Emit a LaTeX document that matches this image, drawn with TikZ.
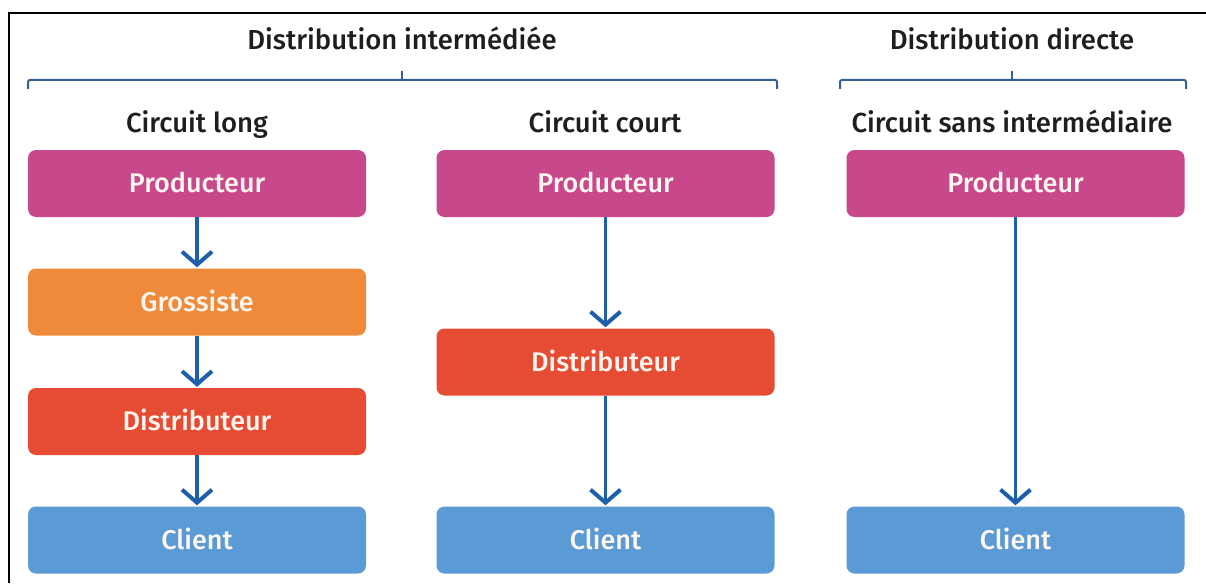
\documentclass[tikz,border=0pt]{standalone}
\usepackage{fontspec}
\setmainfont{Fira Sans}
\newfontfamily\medfont{Fira Sans Medium}
\usetikzlibrary{arrows.meta}
\definecolor{magbox}{HTML}{C8488C}
\definecolor{orabox}{HTML}{EE8A3A}
\definecolor{redbox}{HTML}{E64C33}
\definecolor{blubox}{HTML}{5B9BD5}
\definecolor{arrblue}{HTML}{1E5FAA}
\definecolor{brblue}{HTML}{355E92}
\definecolor{txtdark}{HTML}{1E1E1E}
\definecolor{boxtxt}{HTML}{FFF6F0}
\tikzset{
  box/.style={rectangle, rounded corners=8pt, minimum width=338pt, minimum height=67pt, inner sep=0pt, text=boxtxt, text height=18.6pt, text depth=0pt, font=\medfont\fontsize{27}{30}\selectfont},
  title/.style={text=txtdark, inner sep=0pt, anchor=base, font=\medfont\fontsize{27.5}{30}\selectfont},
  arr/.style={draw=arrblue, line width=3.5pt, -{Straight Barb[length=13pt,width=30pt,line width=4pt]}, shorten >=1pt},
  brace/.style={draw=brblue, line width=2pt, rounded corners=2pt}
}
\begin{document}
\begin{tikzpicture}[x=1pt,y=-1pt]
\useasboundingbox (0,0) rectangle (1206,583);
\fill[white] (0,0) rectangle (1206,583);
\draw[line width=1.5pt, black] (9,583) -- (9,13) -- (1206,13);

% titles
\node[title] (ti) at (402,50) {Distribution intermédiée};
\node[title] (td) at (1012,50) {Distribution directe};
\node[title] (c1) at (197,132) {Circuit long};
\node[title] (c2) at (605,132) {Circuit court};
\node[title] (c3) at (1012,132) {Circuit sans intermédiaire};

% brackets
\draw[brace] (28,89) -- (28,80) -- (777,80) -- (777,89);
\draw[brace] (402,80) -- (402,71);
\draw[brace] (840,89) -- (840,80) -- (1186,80) -- (1186,89);
\draw[brace] (1012,80) -- (1012,71);

% column 1
\node[box, fill=magbox] (p1) at (197,183.5) {Producteur};
\node[box, fill=orabox] (g1) at (197,302) {Grossiste};
\node[box, fill=redbox] (d1) at (197,421.5) {Distributeur};
\node[box, fill=blubox] (k1) at (197,540) {Client};

% column 2
\node[box, fill=magbox] (p2) at (605.5,183.5) {Producteur};
\node[box, fill=redbox] (d2) at (605.5,362) {Distributeur};
\node[box, fill=blubox] (k2) at (605.5,540) {Client};

% column 3
\node[box, fill=magbox] (p3) at (1015.5,183.5) {Producteur};
\node[box, fill=blubox] (k3) at (1015.5,540) {Client};

% arrows
\draw[arr] (p1) -- (g1);
\draw[arr] (g1) -- (d1);
\draw[arr] (d1) -- (k1);
\draw[arr] (p2) -- (d2);
\draw[arr] (d2) -- (k2);
\draw[arr] (p3) -- (k3);
\end{tikzpicture}
\end{document}
